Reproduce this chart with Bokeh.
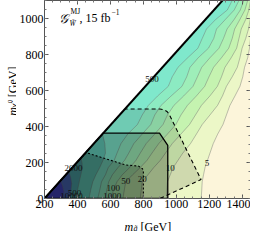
import math
from bokeh.plotting import figure
from bokeh.models import Range1d, LinearAxis, SingleIntervalTicker, Label
from bokeh.layouts import row, column
from bokeh.embed import file_html
from bokeh.resources import INLINE
from bokeh.core.properties import value

SERIF = "Liberation Serif"

# plot window
X_MIN, X_MAX = 200, 1450
Y_MIN, Y_MAX = 0, 1100

# kinematic edge (diagonal)
diag_x = [200, 1280]
diag_y = [0, 1100]

# contour levels, fill colours of "value >= level" regions
base_color = "#fcf5da"
levels = [5, 10, 20, 50, 100, 200, 500, 1000, 2000, 5000, 10000]
level_colors = ["#ecf7c7", "#d9f5b9", "#c5f3b0", "#b0f0b2", "#9eeeb9", "#8cebc2",
                "#7fe8cc", "#62cbb9", "#4fa6aa", "#4868b8", "#4444c0"]

# contour lines (m_gluino, m_chi)
c5_x = [1450, 1444, 1433, 1414, 1403, 1386, 1356, 1325, 1304, 1283, 1251, 1224, 1204, 1189, 1174, 1165, 1157, 1154, 1151]
c5_y = [889, 835, 782, 729, 676, 623, 570, 517, 464, 411, 358, 305, 252, 212, 172, 132, 93, 46, 0]
c10_x = [1450, 1438, 1421, 1399, 1386, 1370, 1339, 1304, 1280, 1250, 1204, 1157, 1122, 1086, 1039, 1010, 981, 963, 946, 943, 940]
c10_y = [1000, 942, 889, 835, 782, 729, 676, 623, 570, 517, 464, 411, 358, 305, 252, 212, 172, 132, 93, 46, 0]
yy = [1100, 1047, 995, 942, 889, 835, 782, 729, 676, 623, 570, 517, 464, 411, 358, 305, 252, 212, 172, 132, 93, 46, 0]
c20_x = [1450, 1440, 1421, 1394, 1380, 1366, 1333, 1295, 1274, 1249, 1204, 1152, 1116, 1080, 1028, 975, 934, 903, 863, 828, 793, 787, 781]
c20_y = yy
c50_x = [1433, 1416, 1386, 1354, 1339, 1318, 1274, 1226, 1198, 1172, 1122, 1067, 1028, 997, 946, 893, 852, 822, 781, 735, 693, 684, 676]
c50_y = yy
c100_x = [1409, 1388, 1351, 1308, 1286, 1259, 1204, 1154, 1128, 1101, 1045, 985, 946, 919, 869, 817, 781, 755, 717, 672, 640, 618, 605]
c100_y = yy
c200_x = [1380, 1351, 1298, 1244, 1227, 1195, 1133, 1083, 1063, 1034, 969, 907, 869, 845, 793, 742, 711, 686, 646, 612, 590, 578, 570]
c200_y = yy
c500_x = [1339, 1309, 1239, 1183, 1157, 1131, 1069, 1010, 975, 951, 887, 830, 793, 764, 705, 664, 640, 623, 587, 570, 546, 535, 523]
c500_y = yy
c1000_x = [552, 566, 570, 555, 535, 512, 493, 480, 470]
c1000_y = [358, 305, 252, 212, 172, 132, 93, 46, 0]
c2000_x = [421, 428, 429, 420, 411, 400, 394]
c2000_y = [225, 196, 167, 130, 93, 46, 0]
c5000_x = [347, 358, 365, 360, 355]
c5000_y = [150, 120, 85, 40, 0]
c10000_x = [298, 310, 318, 315, 312]
c10000_y = [100, 70, 40, 15, 0]

contours_x = [c5_x, c10_x, c20_x, c50_x, c100_x, c200_x, c500_x, c1000_x, c2000_x, c5000_x, c10000_x]
contours_y = [c5_y, c10_y, c20_y, c50_y, c100_y, c200_y, c500_y, c1000_y, c2000_y, c5000_y, c10000_y]

# contour labels
lab_text = ["500", "2000", "500", "10000", "1000", "100", "50", "20", "10", "5"]
lab_x = [852, 376, 382, 364, 611, 617, 693, 793, 963, 1186]
lab_y = [663, 170, 32, 16, 16, 56, 98, 109, 170, 199]

# excluded / expected regions
outer_x = [200, 688, 900, 925, 945, 958, 1150, 900]
outer_y = [0, 497, 497, 493, 482, 465, 105, 0]
solid_x = [200, 556, 898, 948, 948]
solid_y = [0, 363, 363, 295, 0]
inner_x = [200, 452, 693, 770, 795, 800, 800]
inner_y = [0, 255, 186, 180, 165, 150, 0]


def region(xs, ys):
    px, py = list(xs), list(ys)
    px.append(diag_x[0]); py.append(diag_y[0])
    if ys[0] >= Y_MAX:
        px.append(diag_x[1]); py.append(diag_y[1])
    elif xs[0] >= X_MAX:
        px += [diag_x[1], X_MAX]; py += [diag_y[1], Y_MAX]
    return px, py


p = figure(width=234, height=213, output_backend="svg", toolbar_location=None,
           x_range=Range1d(X_MIN, X_MAX), y_range=Range1d(Y_MIN, Y_MAX),
           min_border_left=25, min_border_right=0, min_border_top=0, min_border_bottom=15,
           x_axis_location=None, y_axis_location=None)
p.grid.visible = False
p.background_fill_color = "white"
p.border_fill_color = "white"
p.outline_line_color = "#555555"

# filled bands
xs_all = [[diag_x[0], diag_x[1], X_MAX, X_MAX]]
ys_all = [[diag_y[0], diag_y[1], Y_MAX, Y_MIN]]
cols = [base_color]
for cx, cy, col in zip(contours_x, contours_y, level_colors):
    rx, ry = region(cx, cy)
    xs_all.append(rx); ys_all.append(ry); cols.append(col)
p.patches(xs_all, ys_all, fill_color=cols, line_color=None)

# contour lines
p.multi_line(contours_x, contours_y, line_color="#707070", line_alpha=0.55, line_width=0.8)

# overlays
p.patch(outer_x, outer_y, fill_color="black", fill_alpha=0.12,
        line_color="black", line_width=1.1, line_dash="4 3")
p.patch(solid_x, solid_y, fill_color="black", fill_alpha=0.2,
        line_color="black", line_width=1.3)
p.patch(inner_x, inner_y, fill_color="black", fill_alpha=0.22,
        line_color="black", line_width=1.1, line_dash="2 2")

# diagonal
p.line(diag_x, diag_y, line_color="black", line_width=2)

# contour labels
p.text(lab_x, lab_y, text=lab_text, text_font=value(SERIF), text_font_size="9px",
       text_align="center", text_baseline="middle", text_color="#111111")


# axes (frame ticks on all sides)
def mk_axis(show_labels, standoff=2):
    ax = LinearAxis(ticker=SingleIntervalTicker(interval=200, num_minor_ticks=4))
    ax.axis_line_color = "#555555"
    ax.major_tick_in = 4
    ax.major_tick_out = 0
    ax.minor_tick_in = 2
    ax.minor_tick_out = 0
    ax.major_tick_line_color = "#555555"
    ax.minor_tick_line_color = "#777777"
    ax.major_label_standoff = standoff
    ax.major_label_text_font = SERIF
    ax.major_label_text_color = "black"
    if show_labels:
        ax.major_label_text_font_size = "12px"
    else:
        ax.major_label_text_font_size = "0px"
        ax.major_label_text_color = None
        ax.major_label_standoff = 0
    return ax

p.add_layout(mk_axis(True, 1), "below")
p.add_layout(mk_axis(True, 1), "left")
p.add_layout(mk_axis(False), "above")
p.add_layout(mk_axis(False), "right")


# annotation inside the frame (screen coords relative to frame)
def lab(text, x, y, size, style="normal"):
    p.add_layout(Label(x=x, y=y, x_units="screen", y_units="screen", text=text,
                       text_font=SERIF, text_font_size=size, text_font_style=style,
                       text_color="black", text_baseline="alphabetic", text_align="left"))

lab("\U0001D4A2", 14, 180, "13px", "italic")
lab("MJ", 26, 187.5, "7.5px")
lab("W\u0303", 25, 175, "7.5px", "italic")
lab(", 15 fb", 35, 180.5, "12px")
lab("\u22121", 67, 187, "7.5px")


def label_fig(w, h):
    f = figure(width=w, height=h, output_backend="svg", toolbar_location=None,
               x_range=Range1d(0, w), y_range=Range1d(0, h),
               min_border=0, x_axis_location=None, y_axis_location=None)
    f.grid.visible = False
    f.outline_line_color = None
    f.background_fill_color = "white"
    f.border_fill_color = "white"
    return f

# y axis title (rotated)
ylab = label_fig(16, 213)
a = math.pi / 2
yt_text = ["m", "\u03c7\u0303", "0", "[GeV]"]
yt_x = [12, 13.8, 9, 12]
yt_y = [89, 98, 102.7, 109]
yt_size = ["12px", "8.5px", "6.5px", "12px"]
yt_style = ["italic", "italic", "normal", "normal"]
for t, x, y, s, st in zip(yt_text, yt_x, yt_y, yt_size, yt_style):
    ylab.text([x], [y], text=[t], angle=a, text_font=value(SERIF), text_font_size=s,
              text_font_style=st, text_baseline="alphabetic", text_align="left",
              text_color="black")

# x axis title
xlab = label_fig(250, 18)
xt_text = ["m", "g\u0303", "[GeV]"]
xt_x = [124, 133, 140]
xt_y = [5, 3, 5]
xt_size = ["12px", "8px", "12px"]
xt_style = ["italic", "italic", "normal"]
for t, x, y, s, st in zip(xt_text, xt_x, xt_y, xt_size, xt_style):
    xlab.text([x], [y], text=[t], text_font=value(SERIF), text_font_size=s,
              text_font_style=st, text_baseline="alphabetic", text_align="left",
              text_color="black")

layout = column(row(ylab, p), xlab)
open("out.html", "w").write(file_html(layout, INLINE))
